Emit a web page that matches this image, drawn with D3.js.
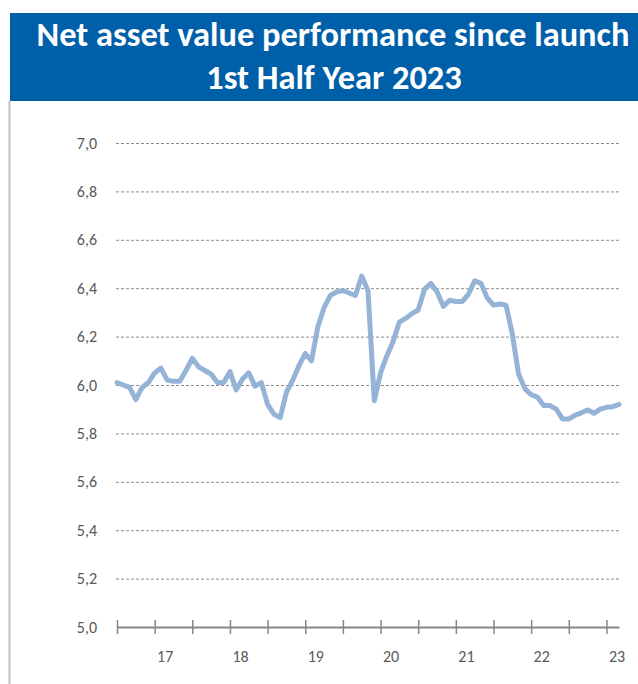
<!DOCTYPE html>
<html>
<head>
<meta charset="utf-8">
<script src="https://cdn.jsdelivr.net/npm/d3@7"></script>
<style>
  html, body { margin: 0; padding: 0; background: #ffffff; }
  svg { display: block; }
</style>
</head>
<body>
<svg id="chart" width="638" height="684"></svg>
<script>
// ---- data ----
const titleLines = ["Net asset value performance since launch", "1st Half Year 2023"];
// monthly net asset value, index 0 = first month after launch
const navValues = [
  6.01, 6.00, 5.99, 5.94, 5.99, 6.01, 6.05, 6.07, 6.02, 6.015,
  6.015, 6.06, 6.11, 6.075, 6.06, 6.045, 6.01, 6.01, 6.055, 5.98,
  6.025, 6.05, 5.995, 6.01, 5.92, 5.88, 5.865, 5.97, 6.02, 6.08,
  6.13, 6.10, 6.24, 6.32, 6.37, 6.385, 6.39, 6.38, 6.37, 6.45,
  6.39, 5.935, 6.05, 6.12, 6.18, 6.26, 6.275, 6.295, 6.31, 6.395,
  6.42, 6.385, 6.325, 6.35, 6.345, 6.345, 6.375, 6.43, 6.42, 6.36,
  6.33, 6.335, 6.33, 6.21, 6.045, 5.985, 5.96, 5.95, 5.915, 5.915,
  5.90, 5.86, 5.86, 5.875, 5.885, 5.897, 5.883, 5.90, 5.908, 5.91,
  5.92
];
const yearLabels = ["17", "18", "19", "20", "21", "22", "23"];
const firstYearMonth = 8;     // month index of first January
const yTickValues = [5.0, 5.2, 5.4, 5.6, 5.8, 6.0, 6.2, 6.4, 6.6, 6.8, 7.0];

// ---- layout ----
const svg = d3.select("#chart");
const plot = { left: 117, right: 619, top: 143, bottom: 627 };
const font = "Calibri, Carlito, Lato, 'Open Sans', sans-serif";

// chart frame (left border)
svg.append("line")
  .attr("x1", 9.5).attr("x2", 9.5).attr("y1", 101).attr("y2", 684)
  .attr("stroke", "#bfbfbf").attr("stroke-width", 2);

// title band
svg.append("rect")
  .attr("x", 10).attr("y", 13).attr("width", 628).attr("height", 88)
  .attr("fill", "#005fa9");

const t1 = svg.append("text")
  .attr("x", 333).attr("y", 46)
  .attr("text-anchor", "middle")
  .attr("fill", "#ffffff").attr("font-family", font)
  .attr("font-weight", "bold").attr("font-size", 27)
  .text(titleLines[0]);
// fit the first line to the reference width
const w1 = t1.node().getComputedTextLength();
const fs = 27 * 593 / w1;
t1.attr("font-size", fs);
svg.append("text")
  .attr("x", 334).attr("y", 89)
  .attr("text-anchor", "middle")
  .attr("fill", "#ffffff").attr("font-family", font)
  .attr("font-weight", "bold").attr("font-size", fs)
  .text(titleLines[1]);

// scales
const x = d3.scaleLinear()
  .domain([0, navValues.length - 1])
  .range([plot.left, plot.right]);
const y = d3.scaleLinear()
  .domain([5.0, 7.0])
  .range([plot.bottom, plot.top]);

// gridlines
svg.append("g")
  .selectAll("line")
  .data(yTickValues.filter(v => v > 5.0))
  .join("line")
  .attr("x1", plot.left - 1).attr("x2", plot.right + 1)
  .attr("y1", d => y(d) + 0.5).attr("y2", d => y(d) + 0.5)
  .attr("stroke", "#8c8c8c").attr("stroke-width", 1)
  .attr("stroke-dasharray", "3,2");

// y axis labels
const fmt = d3.format(".1f");
svg.append("g")
  .selectAll("text")
  .data(yTickValues)
  .join("text")
  .attr("x", 97).attr("y", d => y(d))
  .attr("dy", "0.35em")
  .attr("text-anchor", "end")
  .attr("fill", "#595959").attr("font-family", font).attr("font-size", 16)
  .text(d => fmt(d).replace(".", ","));

// x axis
const xAxis = d3.axisBottom(x)
  .tickValues(d3.range(0, navValues.length - 1, 6))
  .tickSizeInner(0).tickSizeOuter(0)
  .tickFormat("");
const gx = svg.append("g")
  .attr("transform", `translate(0,${plot.bottom})`)
  .call(xAxis);
gx.select(".domain").attr("stroke", "#868686").attr("stroke-width", 2);
gx.selectAll(".tick line")
  .attr("y1", -7).attr("y2", 7)
  .attr("stroke", "#868686").attr("stroke-width", 1.5);

svg.append("g")
  .selectAll("text")
  .data(yearLabels)
  .join("text")
  .attr("x", (d, i) => x(firstYearMonth + 12 * i) - 2)
  .attr("y", 656)
  .attr("dy", "0.35em")
  .attr("text-anchor", "middle")
  .attr("fill", "#595959").attr("font-family", font).attr("font-size", 16)
  .text(d => d);

// line
const line = d3.line()
  .x((d, i) => x(i))
  .y(d => y(d));
svg.append("path")
  .datum(navValues)
  .attr("d", line)
  .attr("fill", "none")
  .attr("stroke", "#95b3d7")
  .attr("stroke-width", 5)
  .attr("stroke-linejoin", "round")
  .attr("stroke-linecap", "round");
</script>
</body>
</html>
